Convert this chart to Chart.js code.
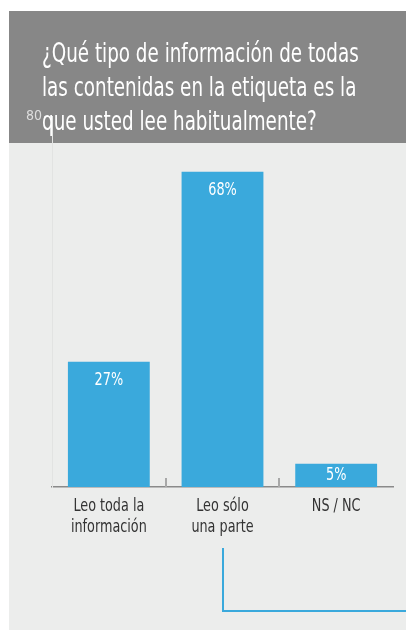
<!DOCTYPE html>
<html>
<head>
<meta charset="utf-8">
<script src="https://cdn.jsdelivr.net/npm/chart.js@4"></script>
<style>
  html, body { margin: 0; padding: 0; background: #fff; }
  #wrap { position: relative; width: 406px; height: 630px; overflow: hidden; }
  #head { position: absolute; left: 9px; top: 11px; width: 397px; height: 132px; background: #878787; }
  #body { position: absolute; left: 9px; top: 143px; width: 397px; height: 487px; background: #ecedec; }
  #title { position: absolute; left: 42px; top: 36px; color: #fff;
    font-family: "DejaVu Sans Condensed", "DejaVu Sans", sans-serif;
    font-size: 27px; line-height: 34px; white-space: nowrap;
    transform: scaleX(0.755); transform-origin: 0 0; }
  #chart_canvas { position: absolute; left: 0; top: 0; }
  #hook { position: absolute; left: 222px; top: 548px; width: 184px; height: 62px;
    border-left: 2px solid #3aa9dc; border-bottom: 2px solid #3aa9dc; }
</style>
</head>
<body>
<div id="wrap">
  <div id="head"></div>
  <div id="body"></div>
  <div id="hook"></div>
  <canvas id="chart_canvas" width="406" height="630"></canvas>
  <div id="title">¿Qué tipo de información de todas<br>las contenidas en la etiqueta es la<br>que usted lee habitualmente?</div>
</div>
<script>
const categories = [["Leo toda la", "información"], ["Leo sólo", "una parte"], ["NS / NC"]];
const values = [27, 68, 5];
const yTicks = [80];
const FONT = '"DejaVu Sans Condensed", "DejaVu Sans", sans-serif';

// squeeze text horizontally to get the narrow look of the original face
function narrowText(ctx, text, x, y, sx) {
    ctx.save();
    ctx.translate(x, y);
    ctx.scale(sx, 1);
    ctx.fillText(text, 0, 0);
    ctx.restore();
}

// value labels in the bars, category labels, short ticks between categories
const barExtras = {
    id: 'barExtras',
    afterDatasetsDraw(chart) {
        const ctx = chart.ctx;
        const meta = chart.getDatasetMeta(0);
        const xs = chart.scales.x;
        const bottom = chart.chartArea.bottom;
        ctx.save();
        ctx.textAlign = 'center';
        ctx.textBaseline = 'middle';
        ctx.fillStyle = '#ffffff';
        ctx.font = '17px ' + FONT;
        meta.data.forEach((bar, i) => {
            const y = Math.min(bar.y + 19, (bar.y + bar.base) / 2);
            narrowText(ctx, values[i] + '%', bar.x, y, 0.84);
        });
        ctx.fillStyle = '#333333';
        ctx.font = '18px ' + FONT;
        ctx.textBaseline = 'alphabetic';
        categories.forEach((lines, i) => {
            const x = xs.getPixelForValue(i);
            lines.forEach((t, j) => {
                narrowText(ctx, t, x, bottom + 24 + j * 20.5, 0.79);
            });
        });
        ctx.strokeStyle = '#a8a8a8';
        ctx.lineWidth = 2;
        for (let i = 1; i < categories.length; i++) {
            const x = Math.round((xs.getPixelForValue(i - 1) + xs.getPixelForValue(i)) / 2);
            ctx.beginPath();
            ctx.moveTo(x, bottom - 9);
            ctx.lineTo(x, bottom);
            ctx.stroke();
        }
        ctx.restore();
    }
};

const myChart = new Chart(document.getElementById('chart_canvas'), {
    type: 'bar',
    data: {
        labels: categories,
        datasets: [{
            data: values,
            backgroundColor: '#3aa9dc',
            borderWidth: 0,
            categoryPercentage: 1,
            barPercentage: 0.72,
        }]
    },
    options: {
        responsive: false,
        animation: false,
        layout: { padding: { top: 116, right: 13, bottom: 93, left: 0 } },
        plugins: { legend: { display: false }, tooltip: { enabled: false } },
        scales: {
            x: {
                afterFit: (s) => { s.height = 50; },
                grid: { display: false, drawTicks: false },
                border: { display: true, color: '#8a8a8a', width: 1.5 },
                ticks: { display: false },
            },
            y: {
                min: 0,
                max: 80,
                afterFit: (s) => { s.width = 52; },
                afterBuildTicks: (s) => { s.ticks = yTicks.map(v => ({ value: v })); },
                grid: { drawOnChartArea: false, color: '#c8c8c8', tickLength: 8 },
                border: { display: true, color: '#e2e3e2', width: 1 },
                ticks: { color: '#dedede', padding: 2, font: { family: FONT, size: 14 } },
            }
        }
    },
    plugins: [barExtras]
});
</script>
</body>
</html>
